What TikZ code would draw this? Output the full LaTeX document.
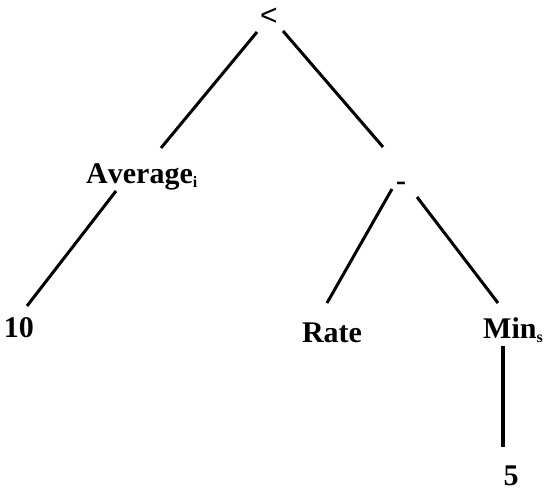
\documentclass[tikz,border=0pt]{standalone}
\usepackage{fontspec}
\setmainfont[Kerning=Off]{Liberation Serif}
\newfontfamily\arialf{Liberation Sans}
\usetikzlibrary{calc}
\newcommand{\lowsub}[1]{\raisebox{-4pt}{\fontsize{16}{18}\selectfont #1}}
\begin{document}
\begin{tikzpicture}[x=1pt,y=-1pt,
  lbl/.style={inner sep=0pt,font=\fontsize{30}{36}\selectfont\bfseries},
  edge/.style={line width=3pt}]
\useasboundingbox (0,0) rectangle (546,492);
\node[inner sep=0pt,font=\fontsize{30}{36}\selectfont\arialf,anchor=base] (root) at (269,26) {<};
\node[lbl,anchor=base west] (avg) at (86,183) {Average\lowsub{i}};
\node[lbl,anchor=base] (minus) at (401,190) {-};
\node[lbl,anchor=base] (ten) at (19,337) {10};
\node[lbl,anchor=base] (rate) at (332,342) {Rate};
\node[lbl,anchor=base west] (min) at (483,338) {Min\lowsub{s}};
\node[lbl,anchor=base] (five) at (511,485) {5};
\draw[edge] ($(root.base)+(-12,6)$) -- ($(avg.base west)+(75,-35)$);
\draw[edge] ($(root.base)+(14,5)$) -- ($(minus.base)+(-18,-43)$);
\draw[edge] ($(avg.base west)+(30,8)$) -- ($(ten.base)+(8,-31)$);
\draw[edge] ($(minus.base)+(-9,-1)$) -- ($(rate.base)+(-5,-39)$);
\draw[edge] ($(minus.base)+(16,7)$) -- ($(min.base west)+(15,-35)$);
\draw[line width=4pt] ($(min.base west)+(20,8)$) -- ($(five.base)+(-8,-38)$);
\end{tikzpicture}
\end{document}
